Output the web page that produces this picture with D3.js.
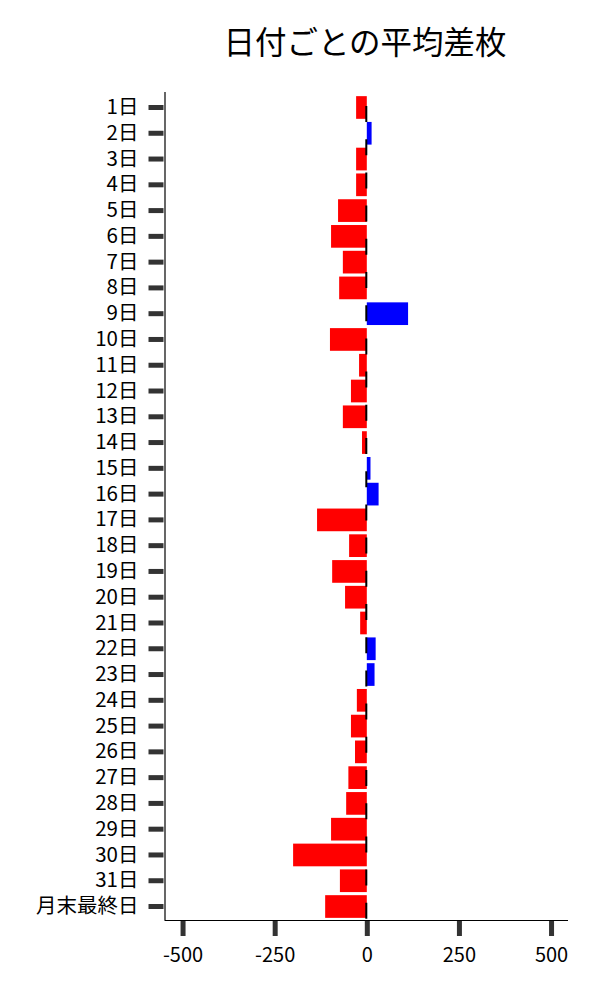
<!DOCTYPE html>
<html><head><meta charset="utf-8">
<script src="https://cdn.jsdelivr.net/npm/d3@7"></script>
<style>body{margin:0;background:#fff;} svg{display:block;}</style>
</head><body>
<script>
const categories = ["1日","2日","3日","4日","5日","6日","7日","8日","9日","10日","11日","12日","13日","14日","15日","16日","17日","18日","19日","20日","21日","22日","23日","24日","25日","26日","27日","28日","29日","30日","31日","月末最終日"];
const values = [-29,13,-29,-29,-78,-97,-65,-75,112,-100,-21,-43,-65,-13,10,32,-135,-48,-94,-59,-18,24,21,-27,-43,-32,-50,-56,-97,-200,-73,-113];
const xTicks = [-500,-250,0,250,500];
const title = "日付ごとの平均差枚";

(function(){
const W = 600, H = 1000;
const font = "'Noto Sans CJK JP','Noto Sans',sans-serif";
const svg = d3.select("body").append("svg").attr("width", W).attr("height", H);

const pLeft = 164.5, pRight = 568, pTop = 92, pBottom = 920;
const x = d3.scaleLinear().domain([-549, 546]).range([pLeft, pRight]);
const y = d3.scaleBand().domain(categories).range([94.6, 919.4]).paddingInner(0.12).paddingOuter(0.06);

svg.append("text").attr("x", 365).attr("y", 54).attr("text-anchor", "middle")
  .attr("font-family", font).attr("font-size", 31.5).attr("fill", "#000").text(title);

// bars
svg.append("g").selectAll("rect").data(categories).join("rect")
  .attr("x", (d,i) => Math.min(x(0), x(values[i])))
  .attr("width", (d,i) => Math.abs(x(values[i]) - x(0)))
  .attr("y", d => y(d))
  .attr("height", y.bandwidth())
  .attr("fill", (d,i) => values[i] < 0 ? "#ff0000" : "#0000ff");

// dashed zero line
svg.append("line").attr("x1", x(0) - 0.5).attr("x2", x(0) - 0.5)
  .attr("y1", pTop).attr("y2", pBottom)
  .attr("stroke", "#000").attr("stroke-width", 2)
  .attr("stroke-dasharray", "16 17.2").attr("stroke-dashoffset", 19.2);

// y axis
const yAxis = svg.append("g").attr("transform", `translate(${pLeft},0)`)
  .call(d3.axisLeft(y).tickSize(0).tickPadding(26));
yAxis.select(".domain").attr("stroke", "#000").attr("stroke-width", 1.2)
  .attr("d", `M0.5,${pTop}V${pBottom}`);
yAxis.selectAll(".tick text").attr("font-family", font).attr("font-size", 20.5).attr("fill", "#000");
yAxis.selectAll(".tick").append("line").attr("x1", -16).attr("x2", -1)
  .attr("stroke", "#333").attr("stroke-width", 5);

// x axis
const xAxis = svg.append("g").attr("transform", `translate(0,${pBottom})`)
  .call(d3.axisBottom(x).tickValues(xTicks).tickSize(0).tickPadding(28).tickFormat(d => String(d)));
xAxis.select(".domain").attr("stroke", "#000").attr("stroke-width", 1.2)
  .attr("d", `M${pLeft},0.5H${pRight}`);
xAxis.selectAll(".tick text").attr("font-family", font).attr("font-size", 20).attr("fill", "#000");
xAxis.selectAll(".tick").append("line").attr("y1", 1).attr("y2", 16)
  .attr("stroke", "#333").attr("stroke-width", 5);
})();
</script>
</body></html>
